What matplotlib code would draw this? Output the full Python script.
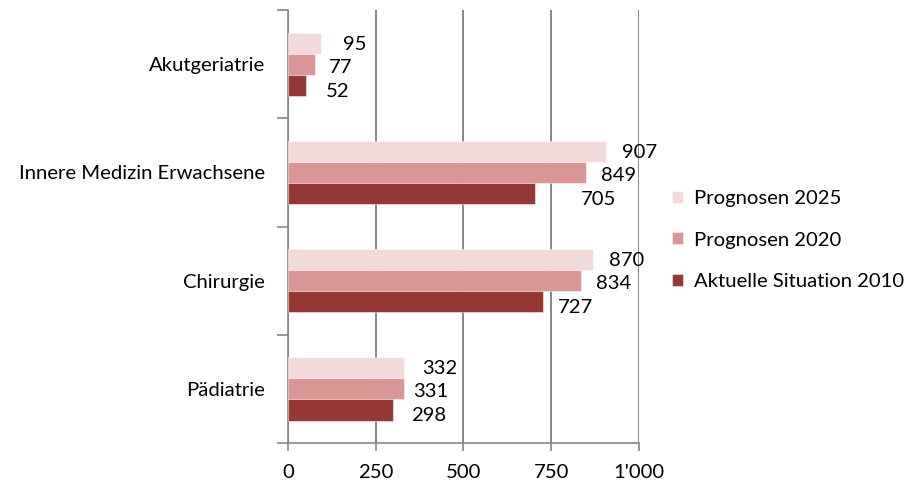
import matplotlib
matplotlib.use("Agg")
import matplotlib.pyplot as plt
import numpy as np

plt.rcParams['font.family'] = ['Lato', 'DejaVu Sans']

categories = ["Akutgeriatrie", "Innere Medizin Erwachsene", "Chirurgie", "Pädiatrie"]
series_names = ["Prognosen 2025", "Prognosen 2020", "Aktuelle Situation 2010"]
prognosen_2025 = [95, 907, 870, 332]
prognosen_2020 = [77, 849, 834, 331]
situation_2010 = [52, 705, 727, 298]
x_ticks = [0, 250, 500, 750, 1000]
x_tick_labels = ["0", "250", "500", "750", "1'000"]

colors = ["#F2DCDB", "#D99694", "#953735"]
# label placement (pixels right of bar end, pixels below bar centre)
label_dx = [[22, 16, 16, 18], [14, 15, 15, 9], [20, 46, 15, 18]]
label_dy = [1, 3, 6]
fs = 14.6

fig = plt.figure(figsize=(9.1, 4.86), dpi=100)
ax = fig.add_axes([0.3165, 0.0885, 0.3855, 0.8905])

values = [prognosen_2025, prognosen_2020, situation_2010]
bar_h = 0.195
pos = np.arange(len(categories))
grid_c = "#868686"

for k, (vals, name, col) in enumerate(zip(values, series_names, colors)):
    y = pos + (k - 1) * bar_h
    bars = ax.barh(y, vals, height=bar_h, color=col, label=name,
                   edgecolor=(1, 1, 1, 0.45), linewidth=0.8, zorder=3)
    for i, (b, v) in enumerate(zip(bars, vals)):
        ax.annotate(str(v), xy=(v, y[i]), xytext=(label_dx[k][i], -label_dy[k]),
                    textcoords="offset pixels", ha="left", va="center",
                    fontsize=fs, color="black")

ax.set_xlim(0, 1000)
ax.set_ylim(len(categories) - 0.5, -0.5)
ax.set_xticks(x_ticks)
ax.set_xticklabels(x_tick_labels, fontsize=fs)
ax.xaxis.grid(True, color=grid_c, linewidth=1.4, zorder=0)
ax.tick_params(axis="x", direction="out", length=6, width=1.2, color=grid_c, pad=9)

ax.set_yticks(np.arange(len(categories) + 1) - 0.5)
ax.set_yticklabels([])
ax.set_yticks(pos, minor=True)
ax.set_yticklabels(categories, minor=True, fontsize=fs)
ax.tick_params(axis="y", which="major", direction="out", length=8, width=1.2, color=grid_c)
ax.tick_params(axis="y", which="minor", length=0, pad=16.5)

for s in ["top", "right"]:
    ax.spines[s].set_visible(False)
for s in ["left", "bottom"]:
    ax.spines[s].set_color(grid_c)
    ax.spines[s].set_linewidth(1.2)

leg = ax.legend(loc="center left", bbox_to_anchor=(1.094, 0.469), frameon=False,
                fontsize=fs, handlelength=0.55, handleheight=0.55, borderpad=0,
                borderaxespad=0, labelspacing=1.2, handletextpad=0.55)

fig.savefig("out.png", dpi=100)
